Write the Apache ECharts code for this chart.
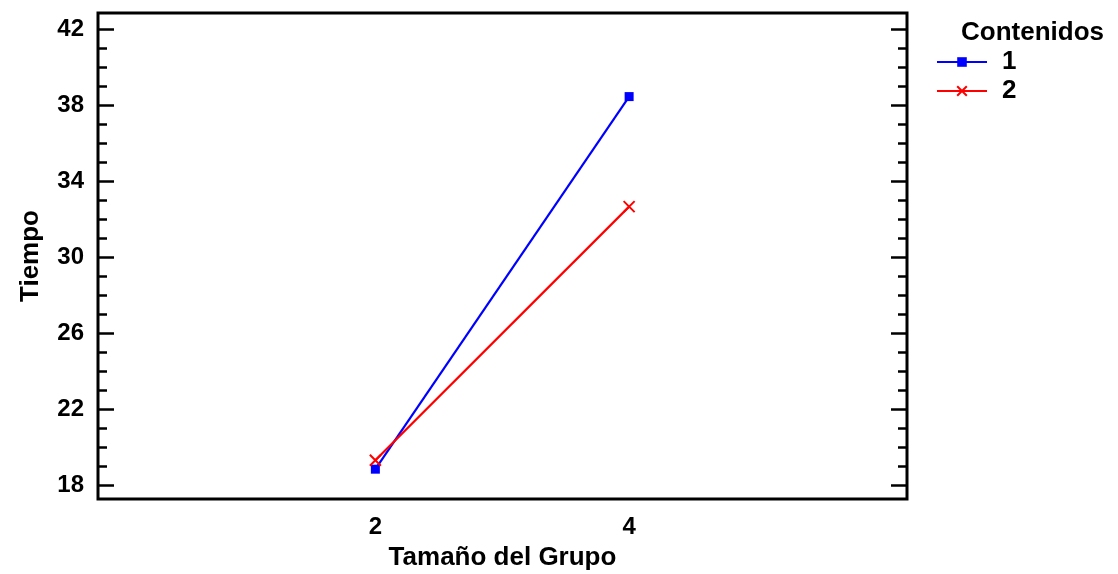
<!DOCTYPE html>
<html>
<head>
<meta charset="utf-8">
<script src="https://cdn.jsdelivr.net/npm/echarts@6/dist/echarts.min.js"></script>
<style>html,body{margin:0;padding:0;background:#fff}#c{width:1118px;height:574px}</style>
</head>
<body>
<div id="c"></div>
<script>
const groups = [2, 4];
const seriesNames = ['1', '2'];
const cont1 = [18.83, 38.44];
const cont2 = [19.3, 32.65];
const yMajor = [18, 22, 26, 30, 34, 38, 42];
const yMinor = [17, 19, 20, 21, 23, 24, 25, 27, 28, 29, 31, 32, 33, 35, 36, 37, 39, 40, 41];
const xLabels = [2, 4];

const FONT = '"Liberation Sans", Arial, sans-serif';
const yMin = 17.26, yMax = 42.84;
const chart = echarts.init(document.getElementById('c'), null, {renderer: 'canvas'});

function tickAx(pos, values, len) {
  return {
    type: 'value', position: pos, min: yMin, max: yMax,
    axisLine: {show: false},
    splitLine: {show: false},
    axisTick: {show: true, inside: true, length: len, customValues: values,
      lineStyle: {color: '#000', width: 2.5}},
    axisLabel: {show: false}
  };
}

const option = {
  animation: false,
  backgroundColor: '#fff',
  title: {
    text: 'Contenidos', left: 961, top: 20, padding: 0,
    textStyle: {fontFamily: FONT, fontWeight: 'bold', fontSize: 26, color: '#000'}
  },
  legend: {
    orient: 'vertical', left: 936, top: 49, padding: 0,
    itemWidth: 50, itemHeight: 12, itemGap: 3,
    data: seriesNames,
    textStyle: {fontFamily: FONT, fontWeight: 'bold', fontSize: 26, color: '#000',
      padding: [0, 0, 0, 10]}
  },
  grid: {
    left: 98, right: 211, top: 13, bottom: 75,
    outerBoundsMode: 'none', containLabel: false,
    show: true, borderColor: '#000', borderWidth: 3, backgroundColor: '#fff'
  },
  xAxis: {
    type: 'value', min: -0.186, max: 6.19,
    name: 'Tamaño del Grupo', nameLocation: 'middle', nameGap: 46,
    nameTextStyle: {fontFamily: FONT, fontWeight: 'bold', fontSize: 26, color: '#000'},
    axisLine: {show: false},
    axisTick: {show: false},
    splitLine: {show: false},
    axisLabel: {customValues: xLabels, margin: 16, color: '#000',
      fontFamily: FONT, fontWeight: 'bold', fontSize: 24}
  },
  yAxis: [
    {
      type: 'value', position: 'left', min: yMin, max: yMax,
      name: 'Tiempo', nameLocation: 'middle', nameGap: 54,
      nameTextStyle: {fontFamily: FONT, fontWeight: 'bold', fontSize: 26, color: '#000'},
      axisLine: {show: false},
      splitLine: {show: false},
      axisTick: {show: false},
      axisLabel: {customValues: yMajor, margin: 14, color: '#000',
        fontFamily: FONT, fontWeight: 'bold', fontSize: 24}
    },
    tickAx('left', yMajor, 16),
    tickAx('left', yMinor, 9),
    tickAx('right', yMajor, 16),
    tickAx('right', yMinor, 9)
  ],
  series: [
    {
      name: seriesNames[0], type: 'line', yAxisIndex: 0,
      data: groups.map((g, i) => [g, cont1[i]]),
      symbol: 'rect', symbolSize: 9,
      lineStyle: {color: '#0000FF', width: 2.2},
      itemStyle: {color: '#0000FF'}
    },
    {
      name: seriesNames[1], type: 'line', yAxisIndex: 0,
      data: groups.map((g, i) => [g, cont2[i]]),
      symbol: 'path://M0,0L10,10M10,0L0,10', symbolSize: 11,
      lineStyle: {color: '#FF0000', width: 2.2},
      itemStyle: {color: '#FF0000', borderColor: '#FF0000', borderWidth: 2}
    }
  ]
};
chart.setOption(option);
</script>
</body>
</html>
